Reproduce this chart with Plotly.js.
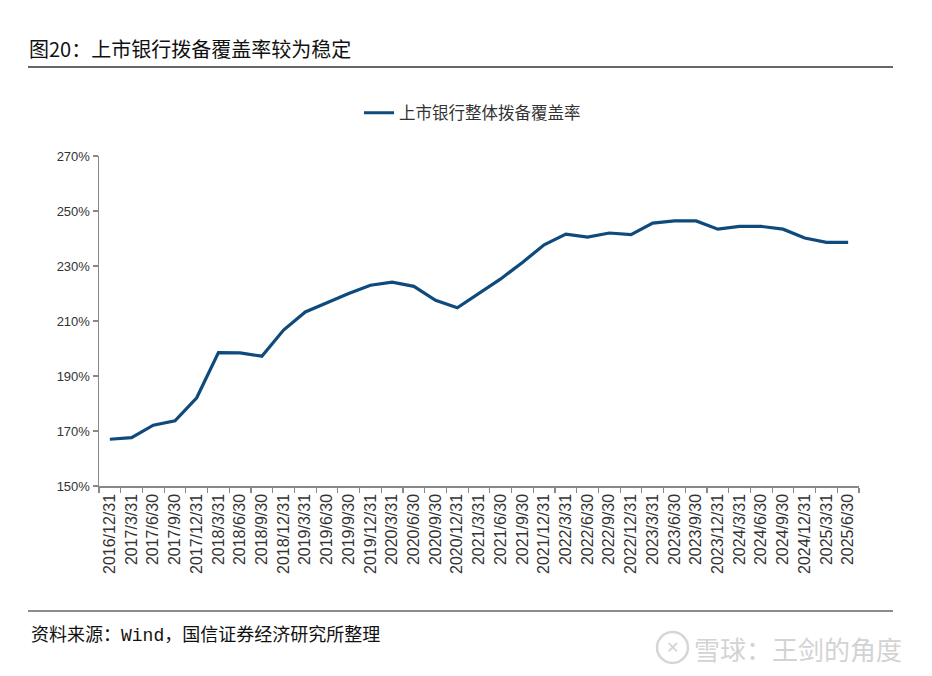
<!DOCTYPE html>
<html>
<head>
<meta charset="utf-8">
<script src="https://cdn.plot.ly/plotly-3.0.1.min.js"></script>
<style>html,body{margin:0;padding:0;background:#fff;}#chart{width:932px;height:676px;}</style>
</head>
<body>
<div id="chart"></div>
<script>
const categories = ["2016/12/31","2017/3/31","2017/6/30","2017/9/30","2017/12/31","2018/3/31","2018/6/30","2018/9/30","2018/12/31","2019/3/31","2019/6/30","2019/9/30","2019/12/31","2020/3/31","2020/6/30","2020/9/30","2020/12/31","2021/3/31","2021/6/30","2021/9/30","2021/12/31","2022/3/31","2022/6/30","2022/9/30","2022/12/31","2023/3/31","2023/6/30","2023/9/30","2023/12/31","2024/3/31","2024/6/30","2024/9/30","2024/12/31","2025/3/31","2025/6/30"];
const coverageRatio = [167.0,167.6,172.1,173.7,182.1,198.5,198.4,197.2,206.7,213.3,216.6,220.0,223.0,224.1,222.6,217.5,214.8,220.2,225.3,231.3,237.7,241.6,240.5,242.0,241.4,245.6,246.4,246.4,243.4,244.4,244.4,243.4,240.2,238.6,238.6];
const seriesName = "上市银行整体拨备覆盖率";
const chartTitle = "图20：上市银行拨备覆盖率较为稳定";
const sourceText = '资料来源：<span style="font-family:Liberation Mono, DejaVu Sans Mono, monospace">Wind</span>，国信证券经济研究所整理';
const watermark = "雪球：王剑的角度";

const L = 99, R = 859, T = 156, B = 486;
const W = 932, H = 676;
const px = x => (x - L) / (R - L);
const py = y => (B - y) / (B - T);
const CJK = '"Noto Sans CJK SC", "Noto Sans", sans-serif';

const trace = {
  x: categories, y: coverageRatio, type: 'scatter', mode: 'lines', name: seriesName,
  line: {color: '#0f4a7c', width: 3.2}
};

const layout = {
  width: W, height: H,
  margin: {l: L, r: W - R, t: T, b: H - B},
  paper_bgcolor: '#fff', plot_bgcolor: '#fff',
  title: {text: chartTitle, x: 29 / W, xref: 'container', xanchor: 'left', y: 1 - 50 / H, yref: 'container', yanchor: 'middle',
          font: {family: CJK, size: 20, color: '#111', weight: 'normal'}},
  showlegend: true,
  legend: {orientation: 'h', x: px(359), xanchor: 'left', y: py(113), yanchor: 'middle',
           font: {family: CJK, size: 16.5, color: '#333'}, bgcolor: 'rgba(0,0,0,0)'},
  xaxis: {type: 'category', showgrid: false, zeroline: false, showline: true, linecolor: '#888', linewidth: 1.5,
          ticks: 'outside', ticklen: 5, tickcolor: '#888', tickwidth: 1.2, tickson: 'boundaries',
          tickangle: -90, tickfont: {family: 'Liberation Sans, Arial, sans-serif', size: 16, color: '#333'},
          range: [-0.5, categories.length - 0.5], fixedrange: true},
  yaxis: {range: [150, 270], dtick: 20, tick0: 150, ticksuffix: '%', showgrid: false, zeroline: false,
          showline: true, linecolor: '#888', linewidth: 1.5, ticks: 'outside', ticklen: 5, tickcolor: '#888', tickwidth: 1.2,
          tickfont: {family: 'Liberation Sans, Arial, sans-serif', size: 13, color: '#333'}, fixedrange: true},
  shapes: [
    {type: 'line', xref: 'paper', yref: 'paper', x0: px(28), x1: px(893), y0: py(67), y1: py(67), line: {color: '#666', width: 2}},
    {type: 'line', xref: 'paper', yref: 'paper', x0: px(28), x1: px(893), y0: py(611), y1: py(611), line: {color: '#666', width: 1.5}},
    {type: 'circle', xref: 'paper', yref: 'paper', x0: px(657), x1: px(688), y0: py(663), y1: py(632), line: {color: '#d6d6d6', width: 2.5}}
  ],
  annotations: [
    {text: sourceText, xref: 'paper', yref: 'paper', x: px(29), y: py(633), xanchor: 'left', yanchor: 'middle', showarrow: false,
     font: {family: CJK, size: 18, color: '#111'}},
    {text: watermark, xref: 'paper', yref: 'paper', x: px(692), y: py(648), xanchor: 'left', yanchor: 'middle', showarrow: false,
     font: {family: CJK, size: 26, color: '#d3d3d3'}},
    {text: '✕', xref: 'paper', yref: 'paper', x: px(672.5), y: py(647.5), xanchor: 'center', yanchor: 'middle', showarrow: false,
     font: {family: 'DejaVu Sans', size: 16, color: '#d3d3d3'}}
  ]
};

Plotly.newPlot('chart', [trace], layout, {displayModeBar: false, staticPlot: true});
</script>
</body>
</html>
